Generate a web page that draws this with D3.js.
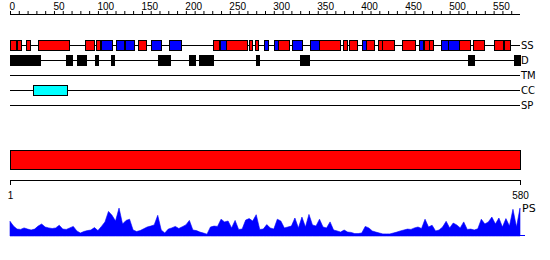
<!DOCTYPE html>
<meta charset="utf-8">
<script src="https://d3js.org/d3.v7.min.js"></script>
<style type="text/css">
body { margin: 0; background: #fff; }
svg { font-family: "DejaVu Sans", sans-serif; font-size: 10px; }
.trilho { stroke: #000; stroke-width: 1; }
.rotulo { fill: #000; }
.axis path, .axis line { stroke: #000; }
.axis text { fill: #000; }
</style>
<body>
<div id="canvas"></div>
<script>

	// tamanho da proteina
	var seqLen = 580;

	// estrutura secundaria: helices (vermelho) e fitas (azul)
	var helix = [[1,7],[9,13],[19,22],[33,67],[86,95],[99,102],[147,155],[232,238],[247,270],
		[273,275],[280,282],[306,318],[351,375],[380,383],[387,395],[406,414],[420,423],[424,437],
		[447,461],[472,477],[478,481],[512,523],[528,539],[551,560],[563,569]];
	var strand = [[105,116],[121,129],[132,141],[161,171],[182,195],[240,246],[290,294],[301,305],
		[322,332],[342,351],[401,405],[466,469],[491,498],[499,510]];

	// regioes desordenadas
	var disorder = [[1,34],[65,71],[77,86],[98,100],[116,118],[169,182],[205,211],[216,231],
		[281,283],[331,340],[522,528],[574,580]];

	// coiled coil
	var coiled = [[27,65]];

	// trilhas
	var tracks = ["SS", "D", "TM", "CC", "SP"];

	// dominio (barra vermelha)
	var domains = [[1,580]];

	// PS: valores a cada 4 residuos
	var ps = [
		0.49,0.33,0.23,0.22,0.27,0.23,0.20,0.23,0.33,0.40,
		0.30,0.27,0.25,0.27,0.36,0.23,0.22,0.27,0.32,0.17,
		0.10,0.15,0.18,0.20,0.28,0.18,0.32,0.47,0.82,0.69,
		0.50,0.93,0.40,0.52,0.56,0.20,0.15,0.18,0.24,0.30,
		0.33,0.37,0.69,0.20,0.10,0.23,0.27,0.32,0.25,0.31,
		0.37,0.52,0.20,0.18,0.13,0.10,0.06,0.30,0.33,0.32,
		0.56,0.47,0.50,0.27,0.52,0.22,0.23,0.53,0.58,0.50,
		0.71,0.22,0.23,0.38,0.27,0.23,0.56,0.50,0.27,0.30,
		0.33,0.60,0.27,0.63,0.30,0.72,0.37,0.33,0.56,0.30,
		0.27,0.47,0.20,0.17,0.13,0.20,0.13,0.12,0.08,0.08,
		0.10,0.32,0.27,0.17,0.13,0.10,0.07,0.07,0.07,0.10,
		0.13,0.17,0.20,0.23,0.22,0.27,0.30,0.25,0.56,0.30,
		0.36,0.17,0.20,0.30,0.49,0.27,0.43,0.37,0.27,0.47,
		0.22,0.23,0.20,0.24,0.56,0.40,0.47,0.63,0.40,0.60,
		0.30,0.58,0.33,0.89,0.30,0.93];

	var width = 550;
	var height = 260;

	var svg = d3.select('#canvas')
		.append("svg")
		.attr('width', width)
		.attr('height', height);

	// eixo X ----------------------------------------------------------
	var x = d3.scaleLinear()
		.domain([0, seqLen])
		.range([10, 520]);

	var xAxis = d3.axisTop(x)
		.tickValues(d3.range(0, seqLen, 10))
		.tickSize(3)
		.tickSizeOuter(0)
		.tickPadding(1)
		.tickFormat(function(d) { return d % 50 == 0 ? d : ""; });

	var gx = svg.append("g")
		.attr("class", "axis")
		.attr("transform", "translate(0,14)")
		.call(xAxis);
	gx.select(".domain").attr("d", "M" + x(0) + ",0.5H" + x(seqLen));
	gx.selectAll("text").attr("text-anchor", "start").attr("dx", "-0.1em");

	// trilhas -------------------------------------------------------
	var y = d3.scalePoint()
		.domain(tracks)
		.range([45, 105]);

	svg.selectAll(".trilho")
		.data(tracks)
		.enter().append("line")
		.attr("class", "trilho")
		.attr("x1", x(0))
		.attr("x2", x(seqLen))
		.attr("y1", function(d) { return Math.round(y(d)) + 0.5; })
		.attr("y2", function(d) { return Math.round(y(d)) + 0.5; });

	svg.selectAll(".rotulo")
		.data(tracks)
		.enter().append("text")
		.attr("class", "rotulo")
		.attr("x", 521)
		.attr("y", function(d) { return y(d) + 4; })
		.text(function(d) { return d; });

	function caixas(lista, trilha, cor) {
		svg.append("g").selectAll("rect")
			.data(lista)
			.enter().append("rect")
			.attr("x", function(d) { return Math.round(x(d[0] - 1)) + 0.5; })
			.attr("width", function(d) { return Math.max(1, Math.round(x(d[1]) - x(d[0] - 1))); })
			.attr("y", Math.round(y(trilha)) - 4.5)
			.attr("height", 10)
			.style("fill", cor)
			.style("stroke", "#000");
	}

	caixas(helix, "SS", "#ff0000");
	caixas(strand, "SS", "#0000ff");
	caixas(disorder, "D", "#000");
	caixas(coiled, "CC", "#00ffff");

	// barra do dominio -------------------------------------------------
	svg.selectAll(".dominio")
		.data(domains)
		.enter().append("rect")
		.attr("class", "dominio")
		.attr("x", function(d) { return x(d[0] - 1) + 0.5; })
		.attr("width", function(d) { return x(d[1]) - x(d[0] - 1); })
		.attr("y", 150.5)
		.attr("height", 19)
		.style("fill", "#ff0000")
		.style("stroke", "#000");

	// eixo inferior
	var x2 = d3.scaleLinear()
		.domain([1, seqLen])
		.range([10, 520]);
	svg.append("g")
		.attr("class", "axis")
		.attr("transform", "translate(0,180)")
		.call(d3.axisBottom(x2).tickValues([1, seqLen]).tickSize(5).tickSizeOuter(5).tickPadding(7));

	// PS --------------------------------------------------------------
	var xp = d3.scaleLinear()
		.domain([0, ps.length - 1])
		.range([10, 520]);
	var yp = d3.scaleLinear()
		.domain([0, 1])
		.range([236, 206]);

	var area = d3.area()
		.x(function(d, i) { return xp(i); })
		.y0(yp(0))
		.y1(function(d) { return yp(d); });

	svg.append("path")
		.datum(ps)
		.attr("d", area)
		.style("fill", "#0000ff")
		.style("stroke", "#0000ff")
		.style("stroke-width", 0.6);

	svg.append("line")
		.attr("x1", 10).attr("x2", 525)
		.attr("y1", 235.5).attr("y2", 235.5)
		.style("stroke", "#0000ff");

	svg.append("text")
		.attr("x", 522)
		.attr("y", 212)
		.style("font-size", "11px")
		.text("PS");
</script>
</body>
